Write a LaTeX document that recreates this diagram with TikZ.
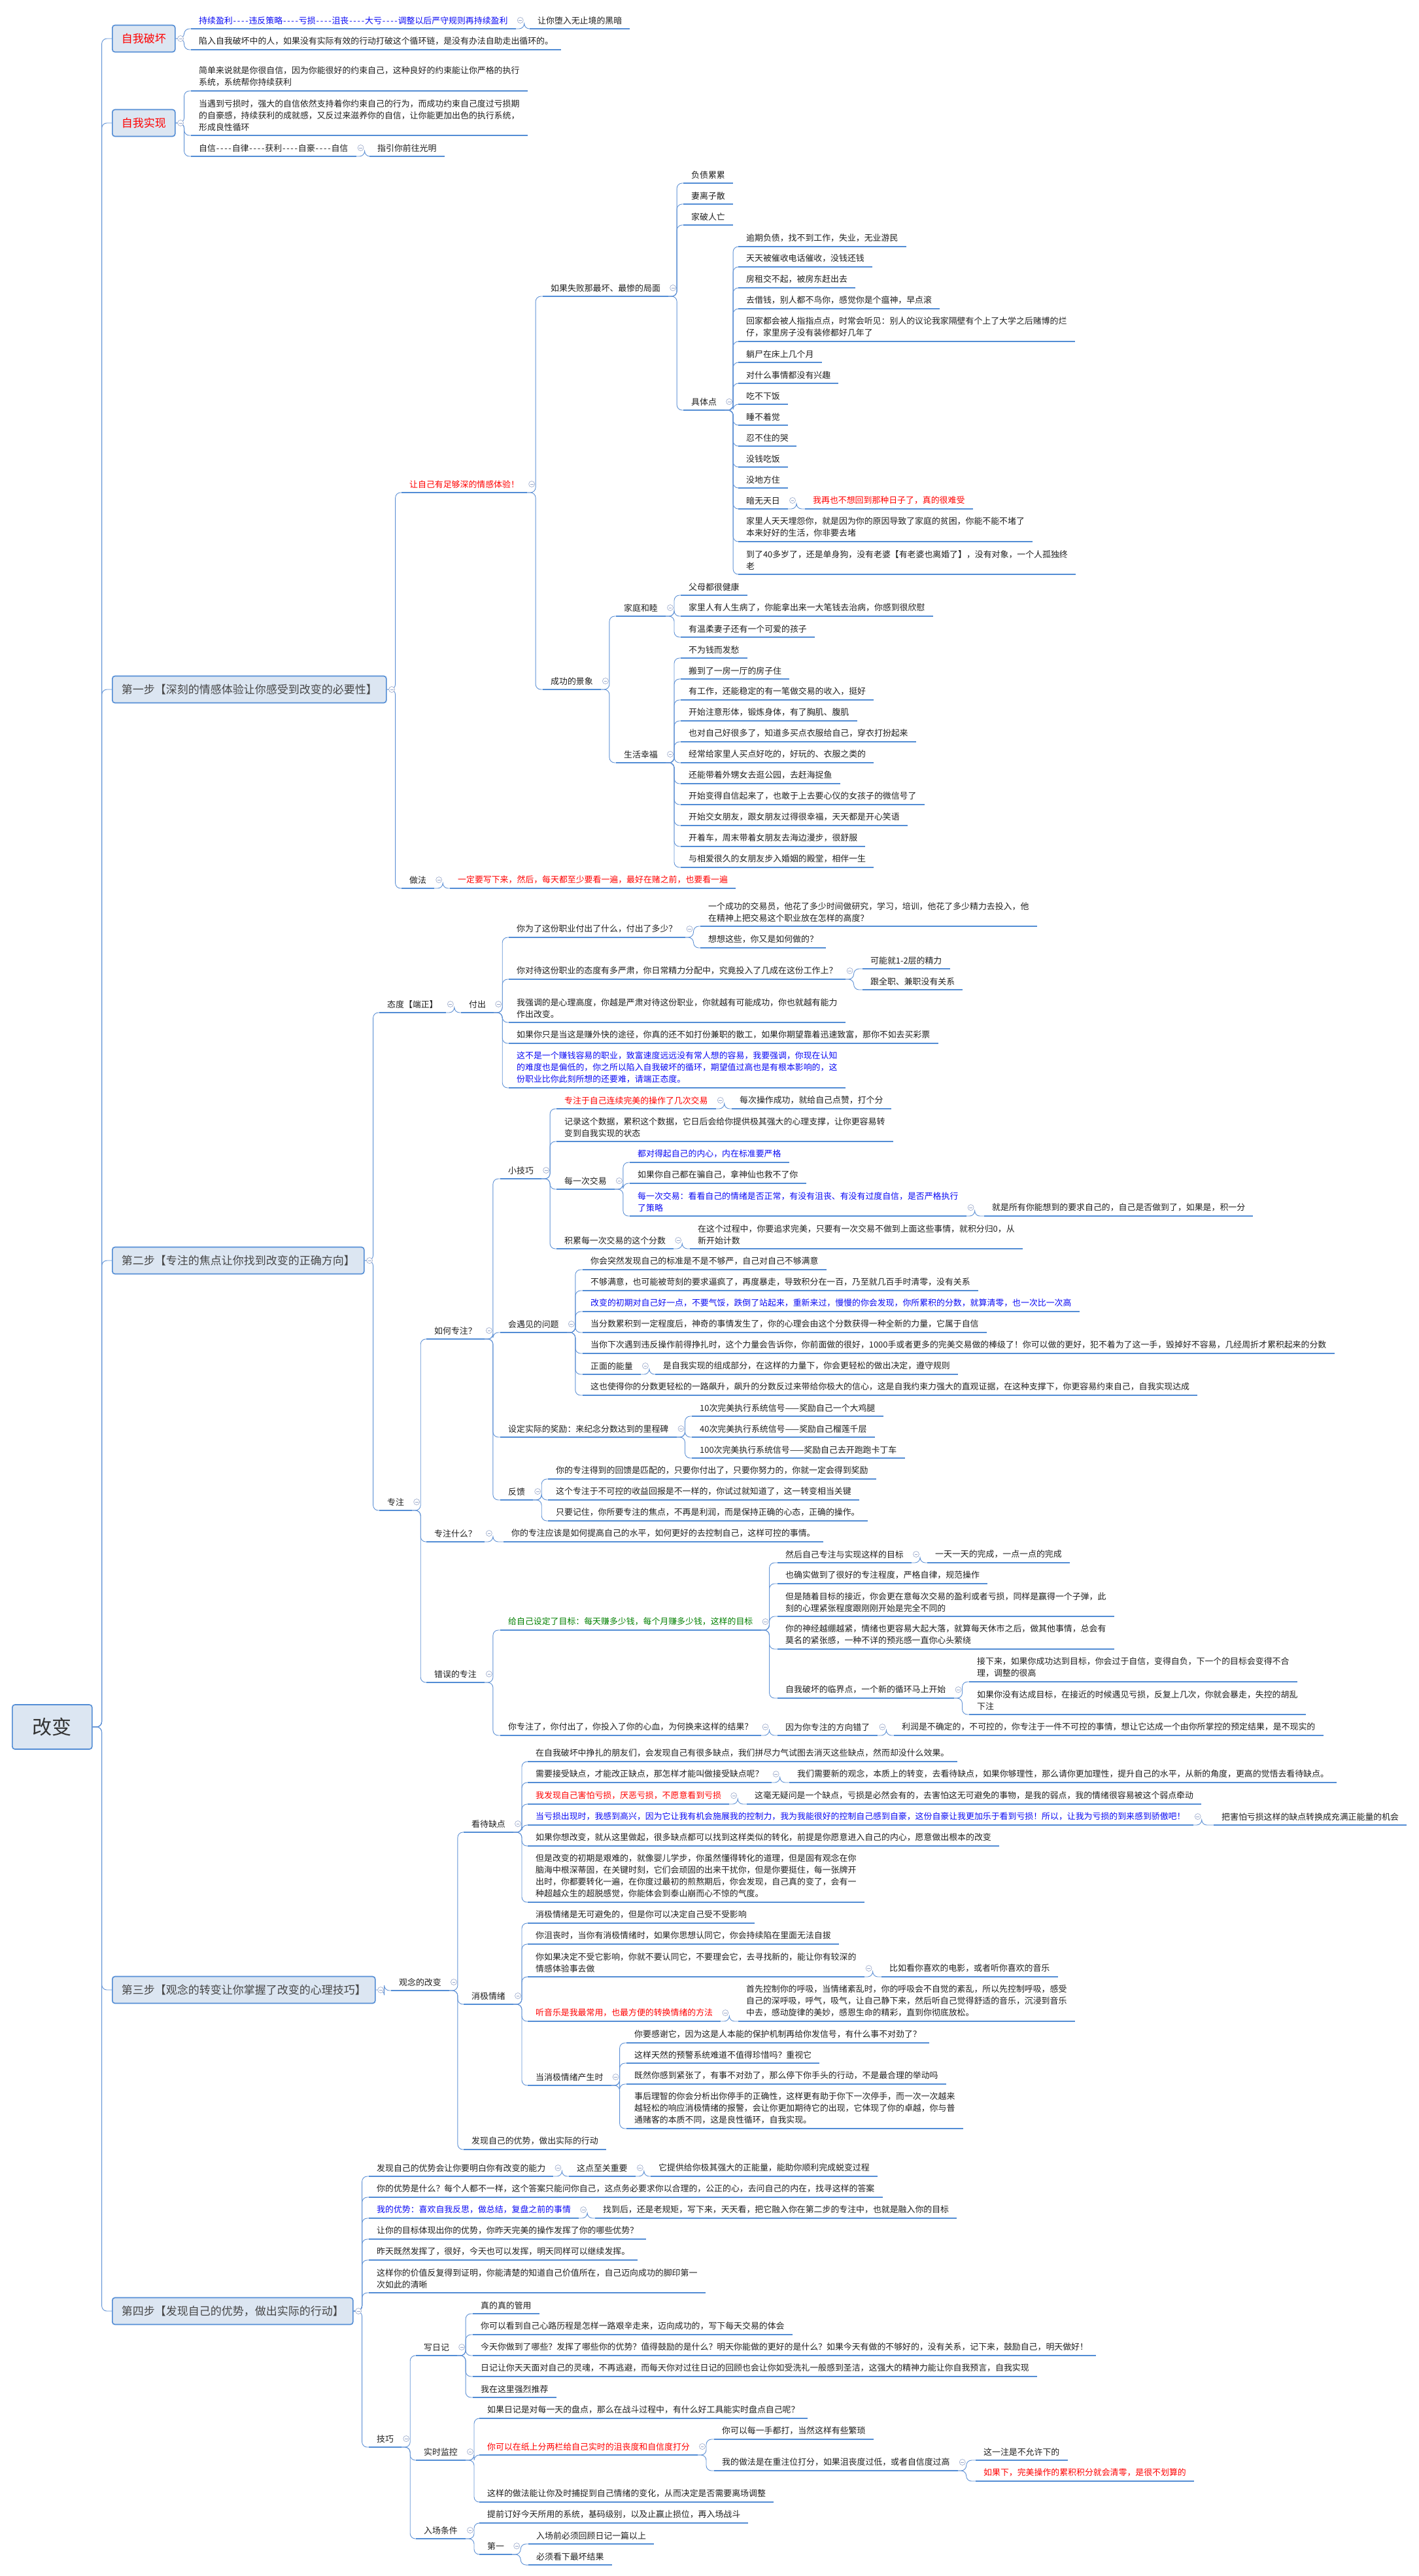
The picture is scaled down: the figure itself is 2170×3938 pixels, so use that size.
\documentclass[tikz,border=0pt]{standalone}
\usepackage{fontspec}
\setmainfont{Noto Sans CJK SC}
\usetikzlibrary{calc}
\definecolor{mmline}{RGB}{83,141,213}
\definecolor{mmlink}{RGB}{96,146,214}
\definecolor{mmfill}{RGB}{220,230,242}
\definecolor{mmfold}{RGB}{150,165,200}
\definecolor{txtred}{RGB}{255,0,0}
\definecolor{txtblue}{RGB}{10,10,245}
\definecolor{txtgreen}{RGB}{0,128,0}
\newcommand\mmfont{\fontsize{12.9pt}{18pt}\selectfont}
\newcommand\stepfont{\fontsize{17pt}{20pt}\selectfont}
\newcommand\rootfont{\fontsize{30pt}{34pt}\selectfont}
\newcommand\hy{\makebox[6.2pt]{-}}
\newcommand\dd{\hy\hy\hy\hy}
\tikzset{
  mmuline/.style={draw=mmline, line width=2.4pt},
  tn/.style={anchor=south west, inner xsep=12pt, inner ysep=6.5pt, align=left,
             font=\mmfont, text=black!88,
             append after command={(\tikzlastnode.south west) edge[mmuline] (\tikzlastnode.south east)}},
  tnred/.style={tn, text=txtred},
  tnblue/.style={tn, text=txtblue},
  tngreen/.style={tn, text=txtgreen},
  link/.style={draw=mmlink, line width=0.9pt, rounded corners=8pt},
  stepbox/.style={rectangle, rounded corners=4pt, draw=mmline, line width=1.6pt, fill=mmfill,
                  anchor=west, minimum height=41pt, inner xsep=14pt, font=\stepfont, text=black!72},
  rootbox/.style={stepbox, minimum height=68pt, minimum width=122pt, font=\rootfont, text=black!80},
  fold/.style={circle, draw=mmfold, fill=white, line width=0.6pt, minimum size=9pt, inner sep=0pt,
               path picture={\draw[mmfold, line width=0.7pt]
                 ([xshift=-2.4pt]path picture bounding box.center) -- ([xshift=2.4pt]path picture bounding box.center);}},
}
\newcommand\kids[2]{%
  \foreach \kid in {#2}{\draw[link] (#1.south east) -- ++(13,0) |- (\kid.south west);}%
  \node[fold] at ([xshift=7pt,yshift=13pt]#1.south east) {};}
\newcommand\bkids[2]{%
  \foreach \kid in {#2}{\draw[link] (#1.east) -- ++(13,0) |- (\kid.south west);}%
  \node[fold] at ([xshift=7.5pt]#1.east) {};}

\begin{document}
\begin{tikzpicture}[x=1pt, y=-1pt]
\useasboundingbox[fill=white] (0,0) rectangle (2170,3938);
\node[rootbox] (root) at (18,2640) {改变};

% self break / self realise
\node[stepbox, text=txtred] (bA) at (171,59) {自我破坏};
\node[tnblue] (a1) at (292,44) {持续盈利\dd{}违反策略\dd{}亏损\dd{}沮丧\dd{}大亏\dd{}调整以后严守规则再持续盈利};
\node[tn] (a1a) at (810,44) {让你堕入无止境的黑暗};
\node[tn] (a2) at (292,76) {陷入自我破坏中的人，如果没有实际有效的行动打破这个循环链，是没有办法自助走出循环的。};
\node[stepbox, text=txtred] (bB) at (171,188) {自我实现};
\node[tn] (r1) at (292,139) {简单来说就是你很自信，因为你能很好的约束自己，这种良好的约束能让你严格的执行\\系统，系统帮你持续获利};
\node[tn] (r2) at (292,207) {当遇到亏损时，强大的自信依然支持着你约束自己的行为，而成功约束自己度过亏损期\\的自豪感，持续获利的成就感，又反过来滋养你的自信，让你能更加出色的执行系统，\\形成良性循环};
\node[tn] (r3) at (292,239) {自信\dd{}自律\dd{}获利\dd{}自豪\dd{}自信};
\node[tn] (r3a) at (565,239) {指引你前往光明};

% step 1
\node[stepbox] (s1) at (171,1054) {第一步【深刻的情感体验让你感受到改变的必要性】};
\node[tnred] (p1) at (614,753) {让自己有足够深的情感体验！};
\node[tn] (p2) at (614,1358) {做法};
\node[tnred] (p2a) at (688,1358) {一定要写下来，然后，每天都至少要看一遍，最好在赌之前，也要看一遍};
\node[tn] (f0) at (830,453) {如果失败那最坏、最惨的局面};
\node[tn] (f1) at (1045,280) {负债累累};
\node[tn] (f2) at (1045,312) {妻离子散};
\node[tn] (f3) at (1045,344) {家破人亡};
\node[tn] (f4) at (1045,627) {具体点};
\node[tn] (k1) at (1129,377) {逾期负债，找不到工作，失业，无业游民};
\node[tn] (k2) at (1129,408) {天天被催收电话催收，没钱还钱};
\node[tn] (k3) at (1129,440) {房租交不起，被房东赶出去};
\node[tn] (k4) at (1129,472) {去借钱，别人都不鸟你，感觉你是个瘟神，早点滚};
\node[tn] (k5) at (1129,522) {回家都会被人指指点点，时常会听见：别人的议论我家隔壁有个上了大学之后赌博的烂\\仔，家里房子没有装修都好几年了};
\node[tn] (k6) at (1129,554) {躺尸在床上几个月};
\node[tn] (k7) at (1129,586) {对什么事情都没有兴趣};
\node[tn] (k8) at (1129,618) {吃不下饭};
\node[tn] (k9) at (1129,650) {睡不着觉};
\node[tn] (k10) at (1129,682) {忍不住的哭};
\node[tn] (k11) at (1129,714) {没钱吃饭};
\node[tn] (k12) at (1129,746) {没地方住};
\node[tn] (k13) at (1129,778) {暗无天日};
\node[tnred] (k13a) at (1231,778) {我再也不想回到那种日子了，真的很难受};
\node[tn] (k14) at (1129,828) {家里人天天埋怨你，就是因为你的原因导致了家庭的贫困，你能不能不堵了\\本来好好的生活，你非要去堵};
\node[tn] (k15) at (1129,878) {到了40多岁了，还是单身狗，没有老婆【有老婆也离婚了】，没有对象，一个人孤独终\\老};
\node[tn] (g0) at (830,1054) {成功的景象};
\node[tn] (g1) at (942,942) {家庭和睦};
\node[tn] (g2) at (942,1166) {生活幸福};
\node[tn] (h1) at (1041,910) {父母都很健康};
\node[tn] (h2) at (1041,942) {家里人有人生病了，你能拿出来一大笔钱去治病，你感到很欣慰};
\node[tn] (h3) at (1041,974) {有温柔妻子还有一个可爱的孩子};
\node[tn] (j1) at (1041,1006) {不为钱而发愁};
\node[tn] (j2) at (1041,1038) {搬到了一房一厅的房子住};
\node[tn] (j3) at (1041,1070) {有工作，还能稳定的有一笔做交易的收入，挺好};
\node[tn] (j4) at (1041,1102) {开始注意形体，锻炼身体，有了胸肌、腹肌};
\node[tn] (j5) at (1041,1134) {也对自己好很多了，知道多买点衣服给自己，穿衣打扮起来};
\node[tn] (j6) at (1041,1166) {经常给家里人买点好吃的，好玩的、衣服之类的};
\node[tn] (j7) at (1041,1198) {还能带着外甥女去逛公园，去赶海捉鱼};
\node[tn] (j8) at (1041,1230) {开始变得自信起来了，也敢于上去要心仪的女孩子的微信号了};
\node[tn] (j9) at (1041,1262) {开始交女朋友，跟女朋友过得很幸福，天天都是开心笑语};
\node[tn] (j10) at (1041,1294) {开着车，周末带着女朋友去海边漫步，很舒服};
\node[tn] (j11) at (1041,1326) {与相爱很久的女朋友步入婚姻的殿堂，相伴一生};

% step 2
\node[stepbox] (s2) at (171,1927) {第二步【专注的焦点让你找到改变的正确方向】};
\node[tn] (t0) at (580,1548) {态度【端正】};
\node[tn] (t1) at (705,1548) {付出};
\node[tn] (u1) at (778,1433) {你为了这份职业付出了什么，付出了多少？};
\node[tn] (u1a) at (1071,1416) {一个成功的交易员，他花了多少时间做研究，学习，培训，他花了多少精力去投入，他\\在精神上把交易这个职业放在怎样的高度？};
\node[tn] (u1b) at (1071,1449) {想想这些，你又是如何做的？};
\node[tn] (u2) at (778,1497) {你对待这份职业的态度有多严肃，你日常精力分配中，究竟投入了几成在这份工作上？};
\node[tn] (u2a) at (1319,1481) {可能就1-2层的精力};
\node[tn] (u2b) at (1319,1513) {跟全职、兼职没有关系};
\node[tn] (u3) at (778,1563) {我强调的是心理高度，你越是严肃对待这份职业，你就越有可能成功，你也就越有能力\\作出改变。};
\node[tn] (u4) at (778,1595) {如果你只是当这是赚外快的途径，你真的还不如打份兼职的散工，如果你期望靠着迅速致富，那你不如去买彩票};
\node[tnblue] (u5) at (778,1663) {这不是一个赚钱容易的职业，致富速度远远没有常人想的容易，我要强调，你现在认知\\的难度也是偏低的，你之所以陷入自我破坏的循环，期望值过高也是有根本影响的，这\\份职业比你此刻所想的还要难，请端正态度。};
\node[tn] (z0) at (580,2309) {专注};
\node[tn] (z1) at (652,2047) {如何专注？};
\node[tn] (m0) at (765,1802) {小技巧};
\node[tnred] (m1) at (851,1695) {专注于自己连续完美的操作了几次交易};
\node[tn] (m1a) at (1119,1695) {每次操作成功，就给自己点赞，打个分};
\node[tn] (m2) at (851,1745) {记录这个数据，累积这个数据，它日后会给你提供极其强大的心理支撑，让你更容易转\\变到自我实现的状态};
\node[tn] (m3) at (851,1818) {每一次交易};
\node[tnblue] (n1) at (963,1777) {都对得起自己的内心，内在标准要严格};
\node[tn] (n2) at (963,1809) {如果你自己都在骗自己，拿神仙也救不了你};
\node[tnblue] (n3) at (963,1859) {每一次交易：看看自己的情绪是否正常，有没有沮丧、有没有过度自信，是否严格执行\\了策略};
\node[tn] (n3a) at (1505,1859) {就是所有你能想到的要求自己的，自己是否做到了，如果是，积一分};
\node[tn] (m4) at (851,1909) {积累每一次交易的这个分数};
\node[tn] (m4a) at (1055,1909) {在这个过程中，你要追求完美，只要有一次交易不做到上面这些事情，就积分归0，从\\新开始计数};
\node[tn] (q0) at (765,2037) {会遇见的问题};
\node[tn] (q1) at (891,1941) {你会突然发现自己的标准是不是不够严，自己对自己不够满意};
\node[tn] (q2) at (891,1973) {不够满意，也可能被苛刻的要求逼疯了，再度暴走，导致积分在一百，乃至就几百手时清零，没有关系};
\node[tnblue] (q3) at (891,2005) {改变的初期对自己好一点，不要气馁，跌倒了站起来，重新来过，慢慢的你会发现，你所累积的分数，就算清零，也一次比一次高};
\node[tn] (q4) at (891,2037) {当分数累积到一定程度后，神奇的事情发生了，你的心理会由这个分数获得一种全新的力量，它属于自信};
\node[tn] (q5) at (891,2069) {当你下次遇到违反操作前得挣扎时，这个力量会告诉你，你前面做的很好，1000手或者更多的完美交易做的棒级了！你可以做的更好，犯不着为了这一手，毁掉好不容易，几经周折才累积起来的分数};
\node[tn] (q6) at (891,2101) {正面的能量};
\node[tn] (q6a) at (1002,2101) {是自我实现的组成部分，在这样的力量下，你会更轻松的做出决定，遵守规则};
\node[tn] (q7) at (891,2133) {这也使得你的分数更轻松的一路飙升，飙升的分数反过来带给你极大的信心，这是自我约束力强大的直观证据，在这种支撑下，你更容易约束自己，自我实现达成};
\node[tn] (w0) at (765,2197) {设定实际的奖励：来纪念分数达到的里程碑};
\node[tn] (w1) at (1058,2165) {10次完美执行系统信号——奖励自己一个大鸡腿};
\node[tn] (w2) at (1058,2197) {40次完美执行系统信号——奖励自己榴莲千层};
\node[tn] (w3) at (1058,2229) {100次完美执行系统信号——奖励自己去开跑跑卡丁车};
\node[tn] (v0) at (765,2293) {反馈};
\node[tn] (v1) at (838,2261) {你的专注得到的回馈是匹配的，只要你付出了，只要你努力的，你就一定会得到奖励};
\node[tn] (v2) at (838,2293) {这个专注于不可控的收益回报是不一样的，你试过就知道了，这一转变相当关键};
\node[tn] (v3) at (838,2325) {只要记住，你所要专注的焦点，不再是利润，而是保持正确的心态，正确的操作。};
\node[tn] (z2) at (652,2357) {专注什么？};
\node[tn] (z2a) at (770,2357) {你的专注应该是如何提高自己的水平，如何更好的去控制自己，这样可控的事情。};
\node[tn] (z3) at (652,2572) {错误的专注};
\node[tngreen] (e1) at (765,2492) {给自己设定了目标：每天赚多少钱，每个月赚多少钱，这样的目标};
\node[tn] (e1a) at (1189,2389) {然后自己专注与实现这样的目标};
\node[tn] (e1a1) at (1418,2389) {一天一天的完成，一点一点的完成};
\node[tn] (e1b) at (1189,2421) {也确实做到了很好的专注程度，严格自律，规范操作};
\node[tn] (e1c) at (1189,2471) {但是随着目标的接近，你会更在意每次交易的盈利或者亏损，同样是赢得一个子弹，此\\刻的心理紧张程度跟刚刚开始是完全不同的};
\node[tn] (e1d) at (1189,2521) {你的神经越绷越紧，情绪也更容易大起大落，就算每天休市之后，做其他事情，总会有\\莫名的紧张感，一种不详的预兆感一直你心头萦绕};
\node[tn] (e1e) at (1189,2596) {自我破坏的临界点，一个新的循环马上开始};
\node[tn] (e1e1) at (1482,2571) {接下来，如果你成功达到目标，你会过于自信，变得自负，下一个的目标会变得不合\\理，调整的很高};
\node[tn] (e1e2) at (1482,2621) {如果你没有达成目标，在接近的时候遇见亏损，反复上几次，你就会暴走，失控的胡乱\\下注};
\node[tn] (e2) at (765,2653) {你专注了，你付出了，你投入了你的心血，为何换来这样的结果？};
\node[tn] (e2a) at (1189,2653) {因为你专注的方向错了};
\node[tn] (e2b) at (1367,2653) {利润是不确定的，不可控的，你专注于一件不可控的事情，想让它达成一个由你所掌控的预定结果，是不现实的};

% step 3
\node[stepbox] (s3) at (171,3042) {第三步【观念的转变让你掌握了改变的心理技巧】};
\node[tn] (c0) at (598,3043) {观念的改变};
\node[tn] (c1) at (709,2801) {看待缺点};
\node[tn] (d1) at (807,2693) {在自我破坏中挣扎的朋友们，会发现自己有很多缺点，我们拼尽力气试图去消灭这些缺点，然而却没什么效果。};
\node[tn] (d2) at (807,2725) {需要接受缺点，才能改正缺点，那怎样才能叫做接受缺点呢？};
\node[tn] (d2a) at (1207,2725) {我们需要新的观念，本质上的转变，去看待缺点，如果你够理性，那么请你更加理性，提升自己的水平，从新的角度，更高的觉悟去看待缺点。};
\node[tnred] (d3) at (807,2758) {我发现自己害怕亏损，厌恶亏损，不愿意看到亏损};
\node[tn] (d3a) at (1142,2758) {这毫无疑问是一个缺点，亏损是必然会有的，去害怕这无可避免的事物，是我的弱点，我的情绪很容易被这个弱点牵动};
\node[tnblue] (d4) at (807,2790) {当亏损出现时，我感到高兴，因为它让我有机会施展我的控制力，我为我能很好的控制自己感到自豪，这份自豪让我更加乐于看到亏损！所以，让我为亏损的到来感到骄傲吧！};
\node[tn] (d4a) at (1856,2790) {把害怕亏损这样的缺点转换成充满正能量的机会};
\node[tn] (d5) at (807,2822) {如果你想改变，就从这里做起，很多缺点都可以找到这样类似的转化，前提是你愿意进入自己的内心，愿意做出根本的改变};
\node[tn] (d6) at (807,2908) {但是改变的初期是艰难的，就像婴儿学步，你虽然懂得转化的道理，但是固有观念在你\\脑海中根深蒂固，在关键时刻，它们会顽固的出来干扰你，但是你要挺住，每一张牌开\\出时，你都要转化一遍，在你度过最初的煎熬期后，你会发现，自己真的变了，会有一\\种超越众生的超脱感觉，你能体会到泰山崩而心不惊的气度。};
\node[tn] (c2) at (709,3064) {消极情绪};
\node[tn] (x1) at (807,2940) {消极情绪是无可避免的，但是你可以决定自己受不受影响};
\node[tn] (x2) at (807,2972) {你沮丧时，当你有消极情绪时，如果你思想认同它，你会持续陷在里面无法自拔};
\node[tn] (x3) at (807,3022) {你如果决定不受它影响，你就不要认同它，不要理会它，去寻找新的，能让你有较深的\\情感体验事去做};
\node[tn] (x3a) at (1348,3022) {比如看你喜欢的电影，或者听你喜欢的音乐};
\node[tnred] (x4) at (807,3090) {听音乐是我最常用，也最方便的转换情绪的方法};
\node[tn] (x4a) at (1129,3090) {首先控制你的呼吸，当情绪紊乱时，你的呼吸会不自觉的紊乱，所以先控制呼吸，感受\\自己的深呼吸，呼气，吸气，让自己静下来，然后听自己觉得舒适的音乐，沉浸到音乐\\中去，感动旋律的美妙，感恩生命的精彩，直到你彻底放松。};
\node[tn] (x5) at (807,3188) {当消极情绪产生时};
\node[tn] (y1) at (958,3123) {你要感谢它，因为这是人本能的保护机制再给你发信号，有什么事不对劲了？};
\node[tn] (y2) at (958,3154) {这样天然的预警系统难道不值得珍惜吗？重视它};
\node[tn] (y3) at (958,3186) {既然你感到紧张了，有事不对劲了，那么停下你手头的行动，不是最合理的举动吗};
\node[tn] (y4) at (958,3254) {事后理智的你会分析出你停手的正确性，这样更有助于你下一次停手，而一次一次越来\\越轻松的响应消极情绪的报警，会让你更加期待它的出现，它体现了你的卓越，你与普\\通赌客的本质不同，这是良性循环，自我实现。};
\node[tn] (c3) at (709,3286) {发现自己的优势，做出实际的行动};

% step 4
\node[stepbox] (s4) at (171,3533) {第四步【发现自己的优势，做出实际的行动】};
\node[tn] (o1) at (564,3327) {发现自己的优势会让你要明白你有改变的能力};
\node[tn] (o1a) at (870,3327) {这点至关重要};
\node[tn] (o1b) at (995,3327) {它提供给你极其强大的正能量，能助你顺利完成蜕变过程};
\node[tn] (o2) at (564,3359) {你的优势是什么？每个人都不一样，这个答案只能问你自己，这点务必要求你以合理的，公正的心，去问自己的内在，找寻这样的答案};
\node[tnblue] (o3) at (564,3391) {我的优势：喜欢自我反思，做总结，复盘之前的事情};
\node[tn] (o3a) at (910,3391) {找到后，还是老规矩，写下来，天天看，把它融入你在第二步的专注中，也就是融入你的目标};
\node[tn] (o4) at (564,3423) {让你的目标体现出你的优势，你昨天完美的操作发挥了你的哪些优势？};
\node[tn] (o5) at (564,3455) {昨天既然发挥了，很好，今天也可以发挥，明天同样可以继续发挥。};
\node[tn] (o6) at (564,3505) {这样你的价值反复得到证明，你能清楚的知道自己价值所在，自己迈向成功的脚印第一\\次如此的清晰};
\node[tn] (o7) at (564,3741) {技巧};
\node[tn] (l1) at (636,3601) {写日记};
\node[tn] (l1a) at (723,3537) {真的真的管用};
\node[tn] (l1b) at (723,3569) {你可以看到自己心路历程是怎样一路艰辛走来，迈向成功的，写下每天交易的体会};
\node[tn] (l1c) at (723,3601) {今天你做到了哪些？发挥了哪些你的优势？值得鼓励的是什么？明天你能做的更好的是什么？如果今天有做的不够好的，没有关系，记下来，鼓励自己，明天做好！};
\node[tn] (l1d) at (723,3633) {日记让你天天面对自己的灵魂，不再逃避，而每天你对过往日记的回顾也会让你如受洗礼一般感到圣洁，这强大的精神力能让你自我预言，自我实现};
\node[tn] (l1e) at (723,3665) {我在这里强烈推荐};
\node[tn] (l2) at (636,3761) {实时监控};
\node[tn] (l2a) at (733,3697) {如果日记是对每一天的盘点，那么在战斗过程中，有什么好工具能实时盘点自己呢？};
\node[tnred] (l2b) at (733,3753) {你可以在纸上分两栏给自己实时的沮丧度和自信度打分};
\node[tn] (l2b1) at (1092,3729) {你可以每一手都打，当然这样有些繁琐};
\node[tn] (l2b2) at (1092,3777) {我的做法是在重注位打分，如果沮丧度过低，或者自信度过高};
\node[tn] (l2b2a) at (1492,3761) {这一注是不允许下的};
\node[tnred] (l2b2b) at (1492,3793) {如果下，完美操作的累积积分就会清零，是很不划算的};
\node[tn] (l2c) at (733,3825) {这样的做法能让你及时捕捉到自己情绪的变化，从而决定是否需要离场调整};
\node[tn] (l3) at (636,3881) {入场条件};
\node[tn] (l3a) at (733,3857) {提前订好今天所用的系统，基码级别，以及止赢止损位，再入场战斗};
\node[tn] (l3b) at (733,3905) {第一};
\node[tn] (l3b1) at (808,3889) {入场前必须回顾日记一篇以上};
\node[tn] (l3b2) at (808,3921) {必须看下最坏结果};

% connectors
\foreach \b in {bA,bB,s1,s2,s3,s4} \draw[link] (root.east) -- ++(14,0) |- (\b.west);
\bkids{bA}{a1,a2} \kids{a1}{a1a}
\bkids{bB}{r1,r2,r3} \kids{r3}{r3a}
\bkids{s1}{p1,p2} \kids{p2}{p2a} \kids{p1}{f0,g0}
\kids{f0}{f1,f2,f3,f4}
\kids{f4}{k1,k2,k3,k4,k5,k6,k7,k8,k9,k10,k11,k12,k13,k14,k15} \kids{k13}{k13a}
\kids{g0}{g1,g2} \kids{g1}{h1,h2,h3} \kids{g2}{j1,j2,j3,j4,j5,j6,j7,j8,j9,j10,j11}
\bkids{s2}{t0,z0} \kids{t0}{t1} \kids{t1}{u1,u2,u3,u4,u5}
\kids{u1}{u1a,u1b} \kids{u2}{u2a,u2b}
\kids{z0}{z1,z2,z3} \kids{z1}{m0,q0,w0,v0}
\kids{m0}{m1,m2,m3,m4} \kids{m1}{m1a} \kids{m3}{n1,n2,n3} \kids{n3}{n3a} \kids{m4}{m4a}
\kids{q0}{q1,q2,q3,q4,q5,q6,q7} \kids{q6}{q6a}
\kids{w0}{w1,w2,w3} \kids{v0}{v1,v2,v3}
\kids{z2}{z2a} \kids{z3}{e1,e2}
\kids{e1}{e1a,e1b,e1c,e1d,e1e} \kids{e1a}{e1a1} \kids{e1e}{e1e1,e1e2}
\kids{e2}{e2a} \kids{e2a}{e2b}
\bkids{s3}{c0} \kids{c0}{c1,c2,c3}
\kids{c1}{d1,d2,d3,d4,d5,d6} \kids{d2}{d2a} \kids{d3}{d3a} \kids{d4}{d4a}
\kids{c2}{x1,x2,x3,x4,x5} \kids{x3}{x3a} \kids{x4}{x4a} \kids{x5}{y1,y2,y3,y4}
\bkids{s4}{o1,o2,o3,o4,o5,o6,o7} \kids{o1}{o1a} \kids{o1a}{o1b} \kids{o3}{o3a}
\kids{o7}{l1,l2,l3} \kids{l1}{l1a,l1b,l1c,l1d,l1e}
\kids{l2}{l2a,l2b,l2c} \kids{l2b}{l2b1,l2b2} \kids{l2b2}{l2b2a,l2b2b}
\kids{l3}{l3a,l3b} \kids{l3b}{l3b1,l3b2}
\end{tikzpicture}
\end{document}
